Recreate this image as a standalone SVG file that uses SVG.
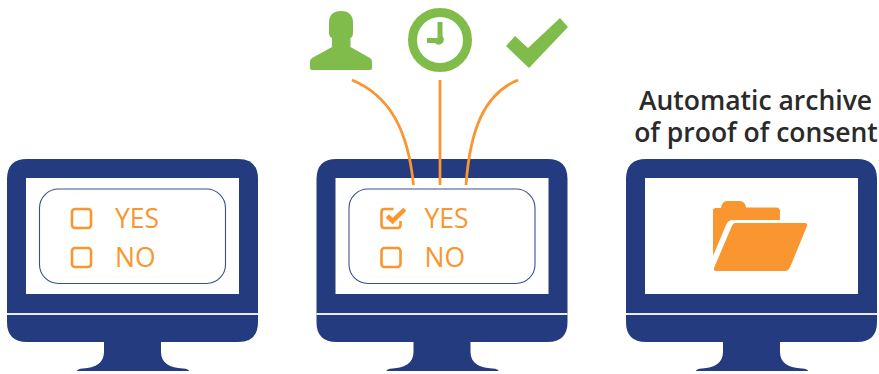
<svg xmlns="http://www.w3.org/2000/svg" width="879" height="374" viewBox="0 0 879 374">
<style>
.opt{font-family:"Open Sans","Liberation Sans",sans-serif;font-size:26.500px;fill:#f9962f}
.title{font-family:"Open Sans","Liberation Sans",sans-serif;font-size:26.500px;font-weight:600;fill:#2a2a2a;text-anchor:middle}
.box{fill:none;stroke:#f9962f;stroke-width:2.6}
.panel{fill:#fff;stroke:#3b4f8f;stroke-width:1.1}
.wire{fill:none;stroke:#f9962f;stroke-width:2.8}
.green{fill:#80bc4b}
</style>
<defs>
<g id="monitor">
<path fill="#253b80" d="M104 342H161V352C161 363 170 368 183 368.500Q189 369 189 371H77Q77 369 83 368.500C95 368 104 363 104 352Z"/>
<path fill="#253b80" d="M7 179Q7 159 27 159H238Q258 159 258 179V322Q258 342 238 342H27Q7 342 7 322Z"/>
<rect x="26" y="178" width="213" height="116" fill="#fff"/>
<rect x="7" y="313" width="251" height="2" fill="#e8ebf3"/>
</g>
<g id="form">
<rect class="panel" x="39.500" y="189" width="186" height="94.500" rx="19"/>
<text class="opt" x="115" y="228">YES</text>
<text class="opt" x="115" y="267">NO</text>
<rect class="box" x="72" y="248" width="19" height="19" rx="3"/>
</g>
</defs>
<g id="monitor-1">
<use href="#monitor"/>
<use href="#form"/>
<rect class="box" x="72" y="209" width="19" height="19" rx="3"/>
</g>
<g id="monitor-2" transform="translate(309.500 0)">
<use href="#monitor"/>
<use href="#form"/>
<path class="box" d="M91 221V225Q91 228 88 228H75Q72 228 72 225V212Q72 209 75 209H84"/>
<path d="M76.200 217.700L79.500 214.300L83.200 217.700L93.800 207.700L96.800 210.700L83.200 224.300Z" fill="#f9962f"/>
</g>
<g id="monitor-3" transform="translate(619 0)">
<use href="#monitor"/>
</g>
<g id="archive-label">
<text class="title"><tspan x="755.500" y="110">Automatic archive</tspan><tspan x="756" y="142">of proof of consent</tspan></text>
</g>
<g id="folder">
<path fill="#f9962f" d="M713 210Q713 208 716 208H721Q722 201 727 201H740Q745 201 746 207.500H776Q780 207.500 780 211V220H733Q728 220 726 225L713 256Z"/>
<path fill="#f9962f" d="M735 223Q736 223 739 223H805Q808 223 807 226L791 265Q789 271 785 271H716Q713 271 714 268L731 228Q733 223 735 223Z"/>
</g>
<g id="person">
<path class="green" d="M329 23Q329 11 341 11Q353 11 353 23V33Q353 37 350.500 38V47L370 58Q372 59 372 62V68Q372 70 370 70H312Q310 70 310 68V62Q310 59 312 58L332 47V38Q329 37 329 33Z"/>
</g>
<g id="clock">
<circle cx="440" cy="40" r="27.500" fill="none" stroke="#80bc4b" stroke-width="9"/>
<path class="green" d="M437.500 22H442.500V36A5 5 0 1 1 435 43H427V38H437.500Z"/>
</g>
<g id="check">
<path class="green" d="M506 46L515 36L528 48L560 18L568 27L529 68Z"/>
</g>
<g id="connectors">
<path class="wire" d="M352 80C390 96 408 130 413.500 185"/>
<path class="wire" d="M440 80V185"/>
<path class="wire" d="M518 80C484 94 470 130 466 185"/>
</g>
</svg>
